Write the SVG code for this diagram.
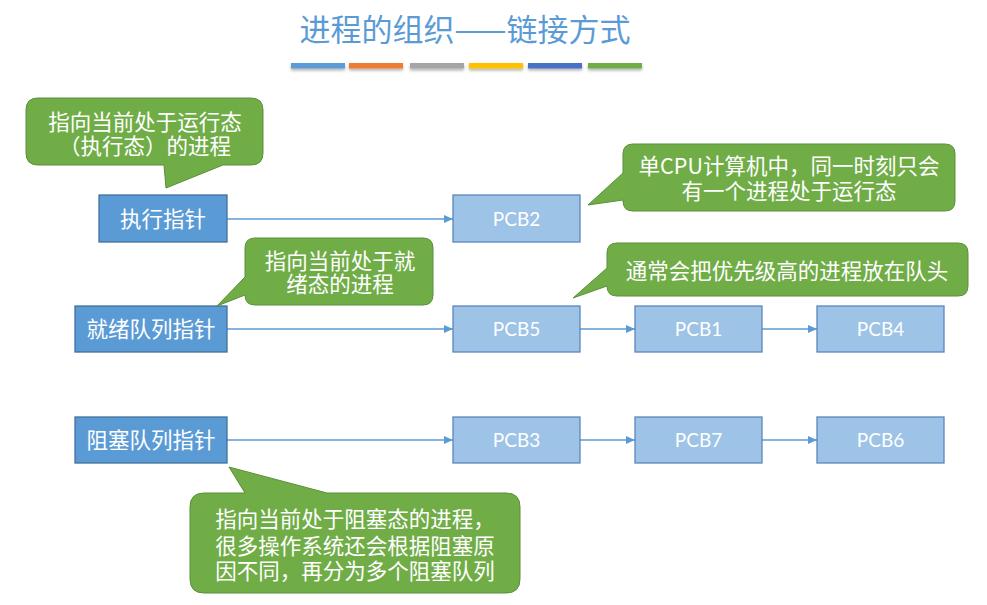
<svg xmlns="http://www.w3.org/2000/svg" width="987" height="605" viewBox="0 0 987 605">
<defs>
<style>
.cjk{font-family:"Noto Sans CJK SC","Noto Sans",sans-serif;fill:#fff;font-size:21.5px;text-anchor:middle}
.lat{font-family:Lato,"Noto Sans",sans-serif;fill:#fff;font-size:19px;text-anchor:middle}
.title{font-family:"Noto Sans CJK SC",sans-serif;fill:#5B9BD5;font-size:31px;text-anchor:middle}
.ptr{fill:#5B9BD5;stroke:#41719C;stroke-width:1.3}
.pcb{fill:#9DC3E6;stroke:#5B86BD;stroke-width:1.3}
.call{fill:#70AD47;stroke:#5A8F3A;stroke-width:1}
.link{stroke:#5B9BD5;stroke-width:1.5;fill:none;marker-end:url(#ah)}
</style>
<marker id="ah" markerUnits="userSpaceOnUse" markerWidth="9" markerHeight="9" viewBox="0 0 9 9" refX="9" refY="4.5" orient="auto">
<path d="M0,0.5 L9,4.5 L0,8.5 Z" fill="#5B9BD5"/>
</marker>
<filter id="sh" x="-10%" y="-100%" width="120%" height="400%">
<feDropShadow dx="0" dy="2" stdDeviation="1.5" flood-color="#000" flood-opacity="0.3"/>
</filter>
</defs>
<rect width="987" height="605" fill="#fff"/>

<g id="title">
<text class="title" x="465" y="41">进程的组织——链接方式</text>
<g filter="url(#sh)">
<rect x="291" y="63" width="54" height="5.5" fill="#5B9BD5"/>
<rect x="349" y="63" width="54" height="5.5" fill="#ED7D31"/>
<rect x="410" y="63" width="54" height="5.5" fill="#A5A5A5"/>
<rect x="469" y="63" width="54" height="5.5" fill="#FFC000"/>
<rect x="528" y="63" width="54" height="5.5" fill="#4472C4"/>
<rect x="588" y="63" width="54" height="5.5" fill="#70AD47"/>
</g>
</g>

<g id="connectors">
<line class="link" x1="227" y1="219" x2="453" y2="219"/>
<line class="link" x1="227" y1="329" x2="453" y2="329"/>
<line class="link" x1="580" y1="329" x2="635" y2="329"/>
<line class="link" x1="762" y1="329" x2="817" y2="329"/>
<line class="link" x1="227" y1="440" x2="453" y2="440"/>
<line class="link" x1="580" y1="440" x2="635" y2="440"/>
<line class="link" x1="762" y1="440" x2="817" y2="440"/>
</g>

<g id="exec-ptr">
<rect class="ptr" x="99" y="195" width="128" height="47"/>
<text class="cjk" x="163" y="227">执行指针</text>
</g>
<g id="ready-ptr">
<rect class="ptr" x="75" y="306" width="152" height="46"/>
<text class="cjk" x="151" y="337">就绪队列指针</text>
</g>
<g id="block-ptr">
<rect class="ptr" x="75" y="417" width="152" height="46"/>
<text class="cjk" x="151" y="448">阻塞队列指针</text>
</g>

<g id="pcb2">
<rect class="pcb" x="453" y="195" width="127" height="47"/>
<text class="lat" x="516.5" y="225.5">PCB2</text>
</g>
<g id="pcb5">
<rect class="pcb" x="453" y="306" width="127" height="46"/>
<text class="lat" x="516.5" y="336">PCB5</text>
</g>
<g id="pcb1">
<rect class="pcb" x="635" y="306" width="127" height="46"/>
<text class="lat" x="698.5" y="336">PCB1</text>
</g>
<g id="pcb4">
<rect class="pcb" x="817" y="306" width="127" height="46"/>
<text class="lat" x="880.5" y="336">PCB4</text>
</g>
<g id="pcb3">
<rect class="pcb" x="453" y="417" width="127" height="46"/>
<text class="lat" x="516.5" y="447">PCB3</text>
</g>
<g id="pcb7">
<rect class="pcb" x="635" y="417" width="127" height="46"/>
<text class="lat" x="698.5" y="447">PCB7</text>
</g>
<g id="pcb6">
<rect class="pcb" x="817" y="417" width="127" height="46"/>
<text class="lat" x="880.5" y="447">PCB6</text>
</g>

<g id="callout-exec">
<path class="call" d="M38,98 H251 Q263,98 263,110 V153 Q263,165 251,165 H223 L166,188 L164,165 H38 Q26,165 26,153 V110 Q26,98 38,98 Z"/>
<text class="cjk" x="145" y="130">指向当前处于运行态</text>
<text class="cjk" x="145" y="154">（执行态）的进程</text>
</g>
<g id="callout-single">
<path class="call" d="M633,144 H945 Q955,144 955,154 V201 Q955,211 945,211 H633 Q623,211 623,201 V200 L588,205 L623,173 V154 Q623,144 633,144 Z"/>
<text class="cjk" x="789" y="174">单CPU计算机中，同一时刻只会</text>
<text class="cjk" x="789" y="199">有一个进程处于运行态</text>
</g>
<g id="callout-priority">
<path class="call" d="M617,243 H958 Q968,243 968,253 V286 Q968,296 958,296 H617 Q607,296 607,286 L573,298 L607,268 V253 Q607,243 617,243 Z"/>
<text class="cjk" x="787" y="279">通常会把优先级高的进程放在队头</text>
</g>
<g id="callout-ready">
<path class="call" d="M255,238 H423 Q433,238 433,248 V295 Q433,305 423,305 H255 Q245,305 245,295 L217,306 L245,277 V248 Q245,238 255,238 Z"/>
<text class="cjk" x="340" y="269">指向当前处于就</text>
<text class="cjk" x="340" y="292">绪态的进程</text>
</g>
<g id="callout-block">
<path class="call" d="M204,493 H245 L229,467 L327,493 H506 Q520,493 520,507 V579 Q520,593 506,593 H204 Q190,593 190,579 V507 Q190,493 204,493 Z"/>
<text class="cjk" x="355" y="527">指向当前处于阻塞态的进程，</text>
<text class="cjk" x="355" y="554">很多操作系统还会根据阻塞原</text>
<text class="cjk" x="355" y="579">因不同，再分为多个阻塞队列</text>
</g>
</svg>
